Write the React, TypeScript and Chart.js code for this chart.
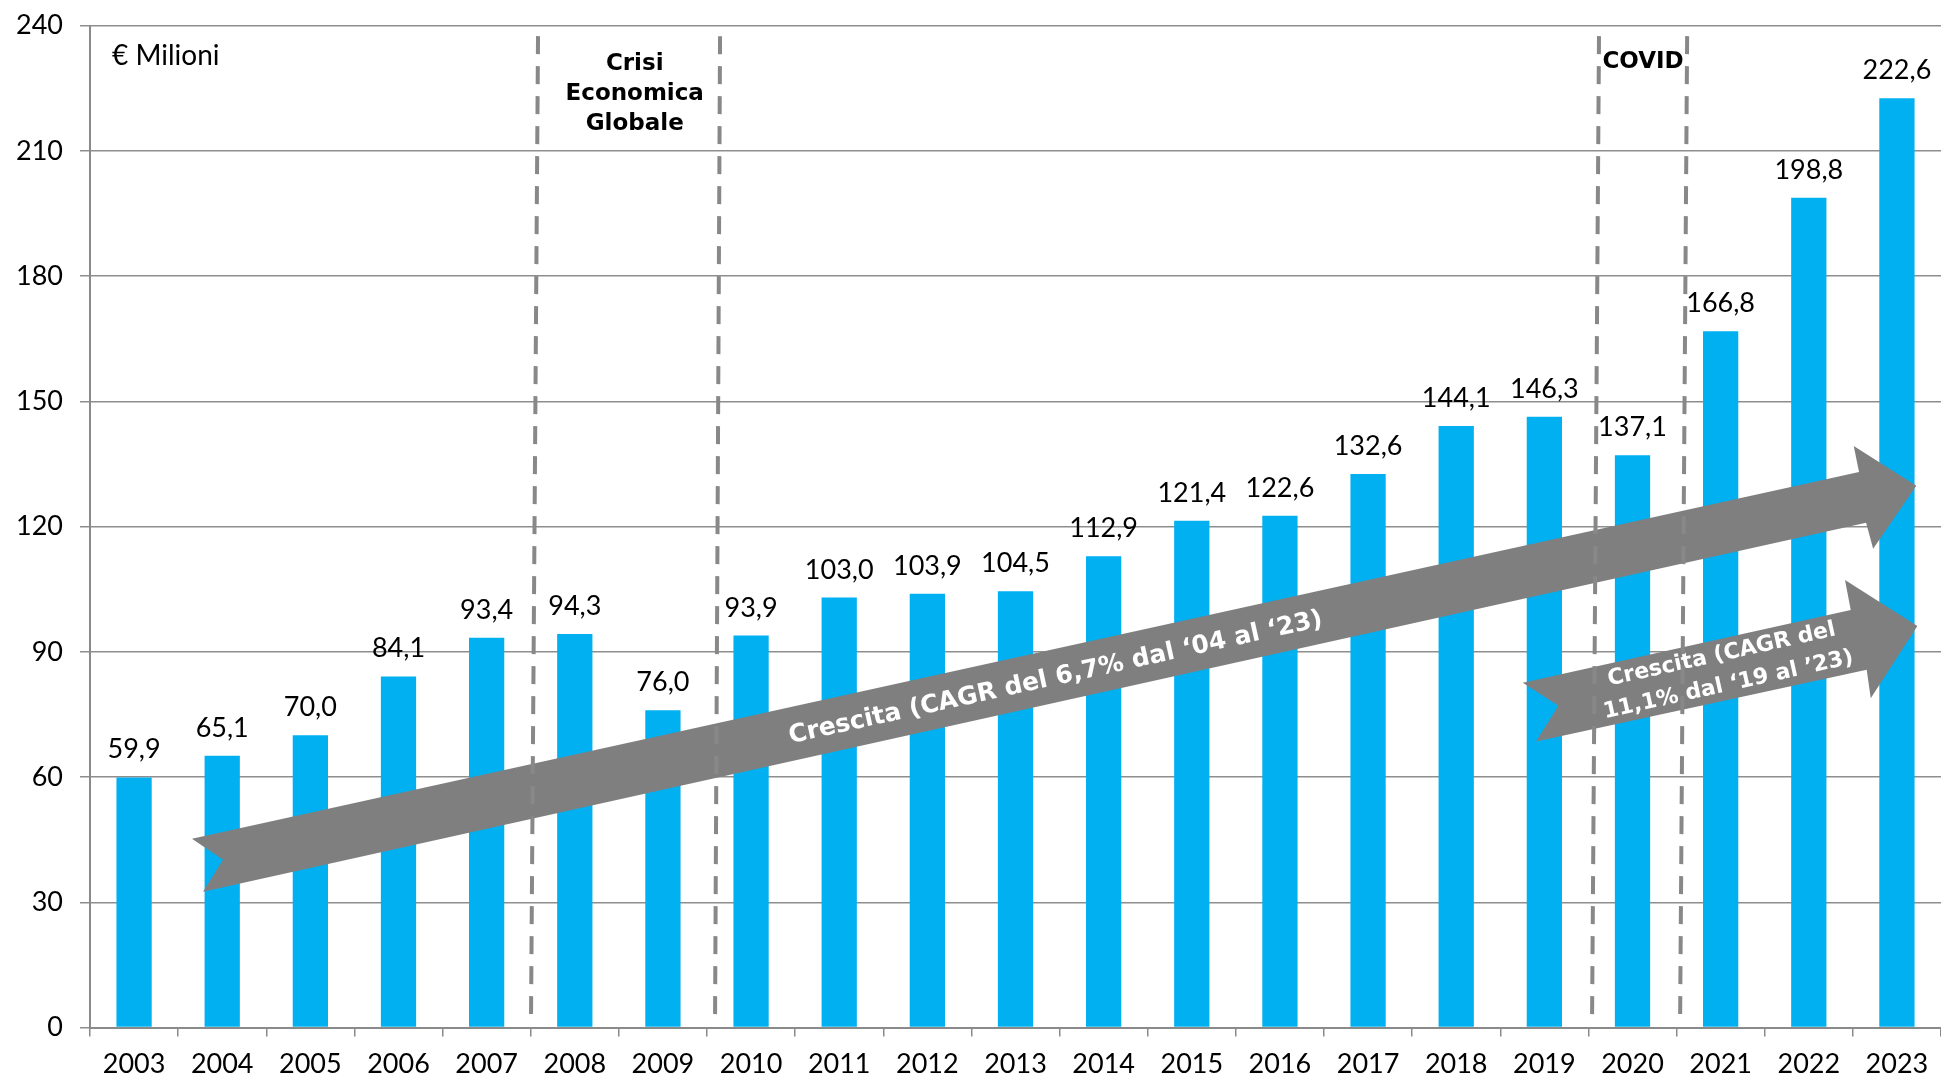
import React, { useEffect, useRef } from 'react';
import { Chart, registerables } from 'chart.js';

Chart.register(...registerables);

// ---- data ----
const years = ['2003', '2004', '2005', '2006', '2007', '2008', '2009', '2010', '2011', '2012', '2013', '2014', '2015', '2016', '2017', '2018', '2019', '2020', '2021', '2022', '2023'];
const values = [59.9, 65.1, 70.0, 84.1, 93.4, 94.3, 76.0, 93.9, 103.0, 103.9, 104.5, 112.9, 121.4, 122.6, 132.6, 144.1, 146.3, 137.1, 166.8, 198.8, 222.6];
const yMin = 0;
const yMax = 240;
const yStep = 30;

// ---- texts ----
const unitLabel = '€ Milioni';
const crisisLabel = ['Crisi', 'Economica', 'Globale'];
const covidLabel = ['COVID'];
const bigArrowText = ['Crescita (CAGR del 6,7% dal ‘04 al ‘23)'];
const smallArrowText = ['Crescita (CAGR del', '11,1% dal ‘19 al ’23)'];

// ---- annotation geometry, in (category index, value) units ----
// order: tail top, shaft top end, top barb, tip, bottom barb, shaft bottom end, tail bottom, notch
const bigArrow: [number, number][] = [
  [0.657, 45.2], [19.57, 133.1], [19.51, 139.3], [20.22, 129.8], [19.73, 114.7], [19.65, 120.9], [0.782, 32.5], [1.009, 40.2],
];
const bigArrowTextAt: [number, number] = [10.45, 84.3];
const smallArrow: [number, number][] = [
  [15.755, 82.6], [19.476, 100.0], [19.411, 107.2], [20.232, 96.2], [19.703, 78.9], [19.657, 85.7], [15.906, 68.5], [16.159, 77.1],
];
const smallArrowTextAt: [number, number] = [18.044, 86.2];
// dashed separators: [index at bottom, index at top]
const separators: [number, number][] = [[4.503, 4.583], [6.591, 6.648], [16.541, 16.62], [17.54, 17.62]];
const sepTop = 237.5;
const sepBottom = 1;
const unitAt: [number, number] = [-0.25, 230.5];
const crisisAt: [number, number] = [5.68, 229.5];
const covidAt: [number, number] = [17.12, 229.9];

// ---- styles ----
const BAR = '#00B0F0';
const GRID = '#8e8e8e';
const AXIS = '#8a8a8a';
const ARROW = '#7f7f7f';
const DASH = '#888888';
const THIN = "'Lato', 'Liberation Sans', sans-serif";
const BOLD = "'DejaVu Sans', 'Liberation Sans', sans-serif";

const fmt = (v: number) => v.toFixed(1).replace('.', ',');

const overlay = {
  id: 'overlay',
  afterDatasetsDraw(chart: any) {
    const { ctx } = chart;
    const xs = chart.scales.x;
    const ys = chart.scales.y;
    const x0 = xs.getPixelForValue(0);
    const dx = xs.getPixelForValue(1) - x0;
    const px = (i: number) => x0 + i * dx;
    const py = (v: number) => ys.getPixelForValue(v);

    ctx.save();

    // arrows
    const drawArrow = (pts: [number, number][], at: [number, number], lines: string[], size: number, gap: number) => {
      ctx.beginPath();
      pts.forEach(([i, v], k) => {
        const X = px(i);
        const Y = py(v);
        if (k === 0) ctx.moveTo(X, Y);
        else ctx.lineTo(X, Y);
      });
      ctx.closePath();
      ctx.fillStyle = ARROW;
      ctx.fill();
      const ang = Math.atan2(py(pts[1][1]) - py(pts[0][1]), px(pts[1][0]) - px(pts[0][0]));
      ctx.save();
      ctx.translate(px(at[0]), py(at[1]));
      ctx.rotate(ang);
      ctx.fillStyle = '#ffffff';
      ctx.font = `bold ${size}px ${BOLD}`;
      ctx.textAlign = 'center';
      ctx.textBaseline = 'alphabetic';
      const capH = size * 0.73;
      lines.forEach((t, k) => {
        ctx.fillText(t, 0, (k - (lines.length - 1) / 2) * gap + capH / 2);
      });
      ctx.restore();
    };
    drawArrow(bigArrow, bigArrowTextAt, bigArrowText, 25, 30);
    drawArrow(smallArrow, smallArrowTextAt, smallArrowText, 22, 31);

    // dashed separators
    ctx.strokeStyle = DASH;
    ctx.lineWidth = 4;
    ctx.setLineDash([18, 12]);
    separators.forEach(([b, t]) => {
      ctx.beginPath();
      ctx.moveTo(px(t), py(sepTop));
      ctx.lineTo(px(b), py(sepBottom));
      ctx.stroke();
    });
    ctx.setLineDash([]);

    // value labels
    const meta = chart.getDatasetMeta(0);
    ctx.fillStyle = '#000';
    ctx.font = `400 27px ${THIN}`;
    ctx.textAlign = 'center';
    ctx.textBaseline = 'alphabetic';
    meta.data.forEach((bar: any, k: number) => {
      ctx.fillText(fmt(values[k]), bar.x, bar.y - 19);
    });

    // unit label
    ctx.font = `400 28px ${THIN}`;
    ctx.textAlign = 'left';
    ctx.fillText(unitLabel, px(unitAt[0]), py(unitAt[1]));

    // period labels
    ctx.font = `bold 23px ${BOLD}`;
    ctx.textAlign = 'center';
    crisisLabel.forEach((t, k) => ctx.fillText(t, px(crisisAt[0]), py(crisisAt[1]) + k * 30));
    covidLabel.forEach((t, k) => ctx.fillText(t, px(covidAt[0]), py(covidAt[1]) + k * 30));

    ctx.restore();
  },
};

export default function App() {
  const ref = useRef<HTMLCanvasElement>(null);
  useEffect(() => {
    const tickFont = { family: THIN, size: 27, weight: 400 as any };
    const chart = new Chart(ref.current as HTMLCanvasElement, {
      type: 'bar',
      data: {
        labels: years,
        datasets: [
          {
            data: values,
            backgroundColor: BAR,
            barPercentage: 0.4,
            categoryPercentage: 1,
          },
        ],
      },
      options: {
        animation: false,
        responsive: true,
        maintainAspectRatio: false,
        layout: { padding: { top: 25.7, right: 0, left: 0, bottom: 0 } },
        plugins: { legend: { display: false }, tooltip: { enabled: false } },
        scales: {
          x: {
            grid: { display: true, drawOnChartArea: false, drawTicks: true, tickLength: 9, color: AXIS, lineWidth: 1.5, offset: true },
            border: { display: true, color: AXIS, width: 2 },
            ticks: { color: '#000', font: tickFont, padding: 12, maxRotation: 0, autoSkip: false },
            afterFit: (s: any) => {
              s.height = 49.5;
              s.paddingLeft = 0;
              s.paddingRight = 0;
            },
          },
          y: {
            min: yMin,
            max: yMax,
            ticks: { stepSize: yStep, color: '#000', font: tickFont, padding: 17 },
            grid: { color: GRID, lineWidth: 1.5, tickLength: 10 },
            border: { display: true, color: AXIS, width: 2 },
            afterFit: (s: any) => {
              s.width = 90;
              s.paddingTop = 0;
              s.paddingBottom = 0;
            },
          },
        },
      },
      plugins: [overlay],
    });
    return () => chart.destroy();
  }, []);

  return (
    <div style={{ position: 'fixed', left: 0, top: 0, width: '1941px', height: '1077px', background: '#fff' }}>
      <canvas ref={ref} />
    </div>
  );
}
